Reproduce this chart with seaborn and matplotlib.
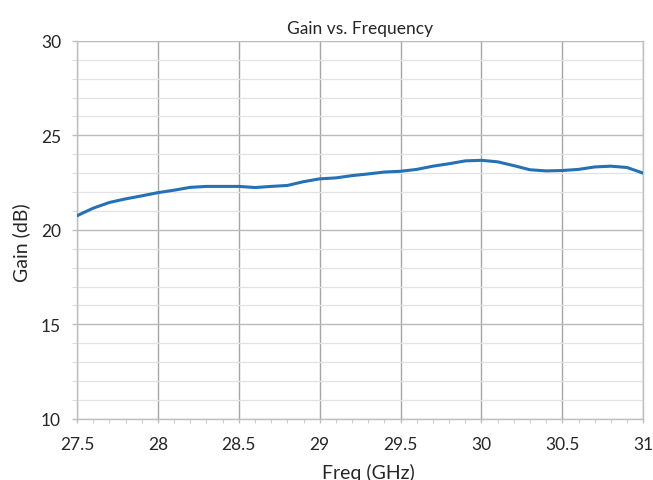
import numpy as np
import pandas as pd
import matplotlib
matplotlib.use("Agg")
import matplotlib.pyplot as plt
from matplotlib.ticker import MultipleLocator
import seaborn as sns

freq_ghz = [27.5, 27.6, 27.7, 27.8, 27.9, 28.0, 28.1, 28.2, 28.3, 28.4, 28.5,
            28.6, 28.7, 28.8, 28.9, 29.0, 29.1, 29.2, 29.3, 29.4, 29.5,
            29.6, 29.7, 29.8, 29.9, 30.0, 30.1, 30.2, 30.3, 30.4, 30.5,
            30.6, 30.7, 30.8, 30.9, 31.0]
gain_db = [20.75, 21.15, 21.45, 21.64, 21.80, 21.97, 22.10, 22.25, 22.30, 22.30, 22.30,
           22.24, 22.30, 22.35, 22.55, 22.70, 22.75, 22.87, 22.96, 23.06, 23.10,
           23.20, 23.37, 23.50, 23.65, 23.68, 23.60, 23.40, 23.18, 23.12, 23.14,
           23.20, 23.33, 23.37, 23.30, 23.00]

x_ticks = [27.5, 28, 28.5, 29, 29.5, 30, 30.5, 31]
x_tick_labels = ["27.5", "28", "28.5", "29", "29.5", "30", "30.5", "31"]
y_ticks = [10, 15, 20, 25, 30]

df = pd.DataFrame({"Freq (GHz)": freq_ghz, "Gain (dB)": gain_db})

sns.set_theme(style="white")
plt.rcParams["font.family"] = ["Lato", "DejaVu Sans"]

fig = plt.figure(figsize=(6.53, 4.81), dpi=100)
ax = fig.add_axes([0.118, 0.127, 0.867, 0.786])

sns.lineplot(data=df, x="Freq (GHz)", y="Gain (dB)", ax=ax,
             color="#2471b5", linewidth=2.2, zorder=3)

ax.set_xlim(27.5, 31)
ax.set_ylim(10, 30)
ax.set_xticks(x_ticks)
ax.set_xticklabels(x_tick_labels)
ax.set_yticks(y_ticks)
ax.xaxis.set_minor_locator(MultipleLocator(0.1))
ax.yaxis.set_minor_locator(MultipleLocator(1))

# Gridlines: major verticals and horizontals, fainter minor horizontals
ax.grid(which="major", axis="x", color="#a6a6a6", linewidth=1.0)
ax.grid(which="major", axis="y", color="#bababa", linewidth=1.0)
ax.grid(which="minor", axis="y", color="#e3e3e3", linewidth=0.9)
ax.set_axisbelow(True)

for side in ["left", "bottom", "right"]:
    ax.spines[side].set_visible(True)
    ax.spines[side].set_color("#bfbfbf")
    ax.spines[side].set_linewidth(1.0)
ax.spines["top"].set_visible(False)

ax.tick_params(axis="both", which="major", labelsize=12.5, colors="#bfbfbf",
               labelcolor="#262626", width=1.0, direction="out")
ax.tick_params(axis="x", which="major", pad=9, length=3)
ax.tick_params(axis="y", which="major", pad=8, length=3.6)
ax.tick_params(axis="x", which="minor", colors="#cfcfcf", length=3, width=0.8,
               direction="out")
ax.tick_params(axis="y", which="minor", colors="#dcdcdc", length=3.6, width=0.8,
               direction="out")
ax.tick_params(bottom=True, left=True, which="both")

ax.set_xlabel("Freq (GHz)", fontsize=14, color="#262626")
ax.xaxis.set_label_coords(0.515, -0.117)
ax.set_ylabel("Gain (dB)", fontsize=14, color="#262626")
ax.yaxis.set_label_coords(-0.083, 0.47)
ax.set_title("Gain vs. Frequency", fontsize=12.5, color="#262626", pad=6)

fig.savefig("out.png", dpi=100)
